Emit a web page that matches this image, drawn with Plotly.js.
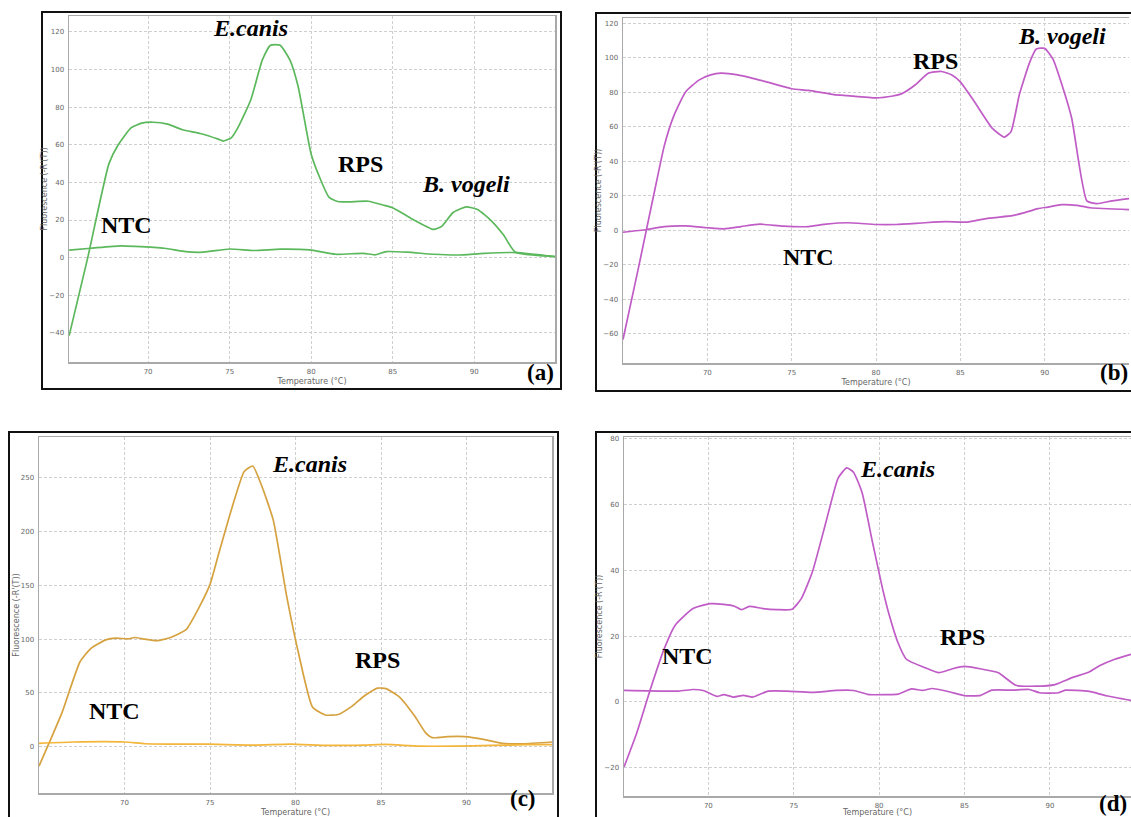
<!DOCTYPE html>
<html>
<head>
<meta charset="utf-8">
<script src="https://cdn.plot.ly/plotly-3.0.1.min.js"></script>
<style>html,body{margin:0;padding:0;background:#fff;}#chart{width:1131px;height:817px;}</style>
</head>
<body>
<div id="chart"></div>
<script>
// ---- Data ----
const xTicks = [70, 75, 80, 85, 90];

// Panel (a) - green
const aMainT = [65.16,66.3,67.6,68.17,68.95,69.6,70.3,71.2,72.1,73.2,74.3,74.6,75.1,75.5,76.3,77.0,77.5,78.1,78.7,79.2,80.0,80.6,81.1,81.7,83.5,84.4,85.0,86.1,87.5,88.0,88.7,89.5,90.2,91.0,91.8,92.5,95.0];
const aMainF = [-41.5,0,50,60,69,71.5,72,71,68,66,63,62,63.7,69,84,105,113,113,105,91,55,41,32,29.7,30,28,26.5,21,15,16.6,24,27,25.6,20,12,3,0.5];
const aNtcT = [65.16,66.5,68.3,69.2,71,72.3,73.4,75,76.5,78.1,79.9,81.5,83.2,83.9,84.6,85.9,87.5,89,90.6,92.6,95];
const aNtcF = [4,5,6.3,6,5,3.2,2.9,4.6,3.8,4.5,4.1,1.8,2.3,1.5,3.2,2.9,1.8,1.4,2.3,2.7,0.5];

// Panel (b) - magenta
const bMainT = [65.0,65.9,66.4,66.9,67.45,68.0,68.7,69.5,70.2,70.8,71.8,72.7,73.5,75,76,77.5,78.3,80,81,81.5,82.3,83.1,83.9,84.5,85,85.8,86.9,87.6,88.0,88.5,89.1,89.5,90.0,90.5,91.0,91.6,92.5,93.1,94.0,95];
const bMainF = [-63.4,-22.6,0.8,24,49,66,80,87,90,91,90,88,86,82,81,78.6,78,76.7,77.8,79,84,91,92,90,86,75,59,54,57,78.6,97,105,105.4,99,85,65,17,15.4,17,18.3];
const bNtcT = [65,66.4,67.45,68.7,70,71,72,73.1,74.5,76,77.05,78.3,80,81.2,82.9,84.15,85.4,86.7,88.1,88.75,89.6,90.2,91.0,91.9,92.7,95];
const bNtcF = [-1.2,0.4,2.1,2.5,1.4,0.8,2.1,3.5,2.3,2.1,3.5,4.3,3.3,3.3,4.3,4.9,4.7,7,8.4,10,12.5,13.4,14.8,14.4,13,11.9];

// Panel (c) - orange
const cMainT = [65,65.6,66.35,67.4,68.04,68.9,69.5,70.2,70.6,71.2,71.9,72.7,73.6,74.4,75.0,75.5,76.3,77.0,77.5,78.0,78.7,79.5,80.2,81.0,81.75,82.5,83.35,84.0,84.8,85.3,86.1,86.96,87.6,88.0,88.9,89.9,91,92.1,93.3,95];
const cMainF = [-18,3.8,32,79,91.5,99.4,101,100.3,101.6,100,98.7,101.6,108.8,130.7,151,179,223,256,261,243.6,210.7,138.6,85.3,36.7,29.5,30,38.2,47,54.5,54,46,28.8,13.2,8.5,9.4,9.4,6.9,3.1,2.8,4.4];
const cNtcT = [65,67,70,71.2,72.7,74.2,75.5,77.6,79.7,81.9,84,85.3,87.2,89.3,91.4,93.5,95];
const cNtcF = [3.1,4.4,4.4,2.8,2.5,2.5,2.2,1.6,2.5,1.25,1.6,2.2,0.6,0.6,1.25,1.9,1.9];

// Panel (d) - magenta
const dMainT = [65.06,65.8,66.6,67.4,68.05,69.1,70.1,70.9,71.5,71.95,72.4,73.2,74.0,74.9,75.45,76.1,76.9,77.6,78.1,78.5,79.0,79.6,80.2,80.6,81.1,81.6,82.65,83.5,84.3,85.0,85.9,86.98,88.0,89.2,90.3,91.3,92.3,92.9,93.8,94.75];
const dMainF = [-19.8,-9.5,3.8,16,23.3,28.4,29.9,29.7,29.2,28.1,29.1,28.4,28.1,28.2,31.5,39.7,55,68.1,71.2,69.9,63.7,48.9,34.5,26.3,18.1,13,10.5,8.9,10.1,10.8,10.1,8.9,5.1,4.8,5.3,7.4,9.1,11,13,14.5];
const dNtcT = [65.06,68.25,69.1,69.7,70.5,70.9,71.5,72.05,72.6,73.5,74.6,76.1,77.5,78.5,79.4,80.4,81.1,81.9,82.55,83.1,84.1,85.0,85.95,86.6,87.8,88.8,89.4,90.5,90.9,92.3,93.3,94.75];
const dNtcF = [3.5,3.3,3.8,3.5,1.7,2.25,1.5,2.0,1.5,3.3,3.3,2.9,3.5,3.5,2.25,2.25,2.4,4,3.5,4.1,3.1,1.9,2.0,3.6,3.6,3.8,2.8,2.8,3.6,3.2,1.9,0.5];

// ---- Styling ----
const GREEN = '#5cb85c', MAG = '#c05cc6', ORANGE = '#d6a240', YELLOW = '#f3b53a';
const W = 1131, H = 817;
const px = v => v / W, py = v => 1 - v / H;

function ln(x, y, color, xa, ya) {
  return {x: x, y: y, type: 'scatter', mode: 'lines', xaxis: xa, yaxis: ya,
          line: {color: color, width: 1.7, shape: 'spline', smoothing: 0.5}, hoverinfo: 'skip'};
}
const traces = [
  ln(aMainT, aMainF, GREEN, 'x', 'y'), ln(aNtcT, aNtcF, GREEN, 'x', 'y'),
  ln(bMainT, bMainF, MAG, 'x2', 'y2'), ln(bNtcT, bNtcF, MAG, 'x2', 'y2'),
  ln(cMainT, cMainF, ORANGE, 'x3', 'y3'), ln(cNtcT, cNtcF, YELLOW, 'x3', 'y3'),
  ln(dMainT, dMainF, MAG, 'x4', 'y4'), ln(dNtcT, dNtcF, MAG, 'x4', 'y4')
];

const tickFont = {family: 'DejaVu Sans', size: 7, color: '#666'};
const titleFont = {family: 'DejaVu Sans', size: 8, color: '#666'};
function xax(dom, rng, yanchor, mirror) {
  return {domain: dom, range: rng, anchor: yanchor, tickvals: xTicks, ticks: '',
          showgrid: true, gridcolor: '#cfcfcf', griddash: '3px,2px', gridwidth: 1,
          zeroline: false, showline: true, linecolor: '#a9a9a9', linewidth: 1.5, mirror: mirror,
          tickfont: tickFont, ticklabelstandoff: 2,
          title: {text: 'Temperature (°C)', font: titleFont, standoff: 3}};
}
function yax(dom, rng, xanchor, dtick, mirror) {
  return {domain: dom, range: rng, anchor: xanchor, dtick: dtick, tick0: 0, ticks: '',
          showgrid: true, gridcolor: '#cfcfcf', griddash: '3px,2px', gridwidth: 1,
          zeroline: false, showline: true, linecolor: '#a9a9a9', linewidth: 1.5, mirror: mirror,
          tickfont: tickFont, ticklabelstandoff: 2,
          title: {text: "Fluorescence (-R'(T))", font: titleFont, standoff: 0}};
}

const lab = {family: 'Liberation Serif', size: 24, color: '#000'};
function ann(text, x, y, xr, yr) {
  return {text: text, x: x, y: y, xref: xr, yref: yr, showarrow: false,
          xanchor: 'center', yanchor: 'middle', font: lab};
}
function pan(text, x, y) {
  return {text: '<b>' + text + '</b>', x: px(x), y: py(y), xref: 'paper', yref: 'paper',
          showarrow: false, xanchor: 'center', yanchor: 'middle',
          font: {family: 'Liberation Serif', size: 23, color: '#000'}};
}
const annotations = [
  ann('<b><i>E.canis</i></b>', 76.3, 122, 'x', 'y'),
  ann('<b>RPS</b>', 83.0, 50, 'x', 'y'),
  ann('<b><i>B. vogeli</i></b>', 89.5, 39, 'x', 'y'),
  ann('<b>NTC</b>', 68.7, 17.5, 'x', 'y'),
  ann('<b>RPS</b>', 83.5, 98, 'x2', 'y2'),
  ann('<b><i>B. vogeli</i></b>', 91.0, 112.6, 'x2', 'y2'),
  ann('<b>NTC</b>', 76, -15.8, 'x2', 'y2'),
  ann('<b><i>E.canis</i></b>', 80.8, 263, 'x3', 'y3'),
  ann('<b>RPS</b>', 84.8, 80.5, 'x3', 'y3'),
  ann('<b>NTC</b>', 69.4, 33.5, 'x3', 'y3'),
  ann('<b><i>E.canis</i></b>', 81.1, 70.9, 'x4', 'y4'),
  ann('<b>RPS</b>', 84.9, 19.7, 'x4', 'y4'),
  ann('<b>NTC</b>', 68.8, 14, 'x4', 'y4'),
  pan('(a)', 540, 373), pan('(b)', 1114, 373), pan('(c)', 523, 798), pan('(d)', 1113, 803)
];

function frame(x0, y0, x1, y1) {
  return {type: 'rect', xref: 'paper', yref: 'paper', x0: px(x0), x1: px(x1), y0: py(y0), y1: py(y1),
          line: {color: '#111', width: 2}, fillcolor: 'rgba(0,0,0,0)', layer: 'above'};
}
const shapes = [
  frame(42, 12, 561, 389), frame(596, 13, 1140, 391),
  frame(9, 432, 558, 830), frame(596, 432, 1140, 830)
];

const layout = {
  width: W, height: H, margin: {l: 0, r: 0, t: 0, b: 0},
  paper_bgcolor: '#fff', plot_bgcolor: '#fff', showlegend: false,
  xaxis: xax([px(69), px(555)], [65.15, 94.95], 'y', true),
  yaxis: yax([py(362), py(16)], [-55.5, 128.5], 'x', 20, true),
  xaxis2: xax([px(623), px(1129)], [65.0, 95.0], 'y2', true),
  yaxis2: yax([py(363), py(18)], [-77, 123], 'x2', 20, false),
  xaxis3: xax([px(39), px(552)], [65.0, 95.0], 'y3', true),
  yaxis3: yax([py(793), py(437)], [-43, 288], 'x3', 50, true),
  xaxis4: xax([px(624), 1], [65.06, 94.75], 'y4', true),
  yaxis4: yax([py(796), py(437)], [-28.6, 80.6], 'x4', 20, false),
  annotations: annotations, shapes: shapes
};

Plotly.newPlot('chart', traces, layout, {staticPlot: true, displayModeBar: false});
</script>
</body>
</html>
